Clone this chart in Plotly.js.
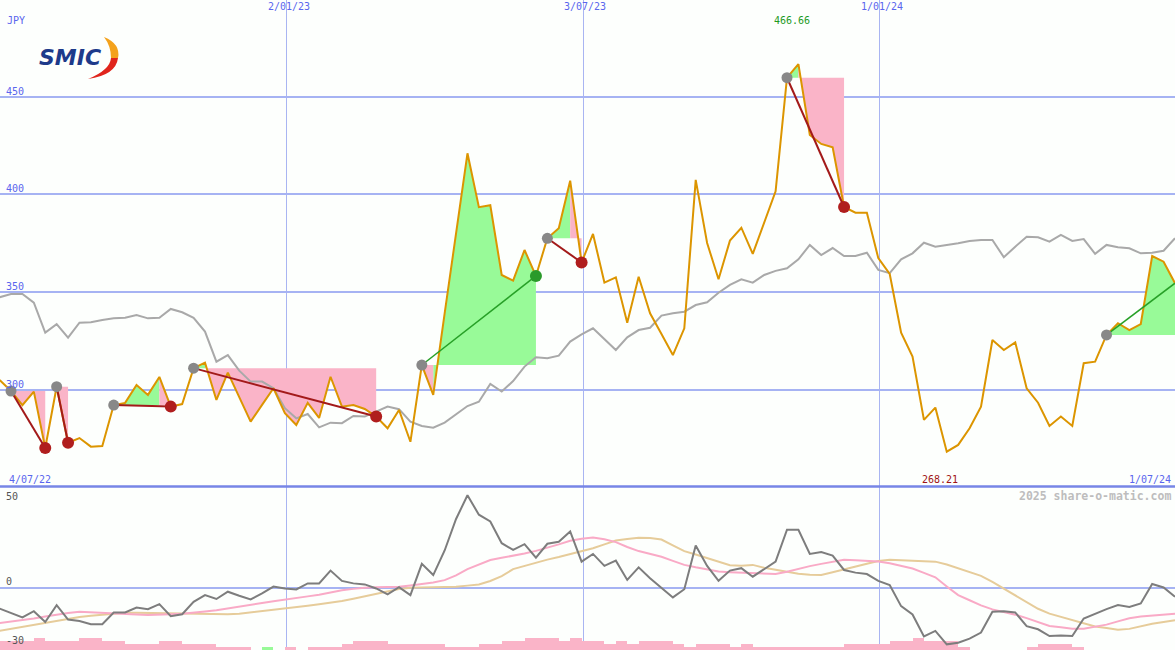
<!DOCTYPE html>
<html><head><meta charset="utf-8">
<script src="https://cdn.plot.ly/plotly-3.0.1.min.js"></script>
<style>html,body{margin:0;padding:0;background:#fdfffd;}#chart{width:1175px;height:650px;}</style>
</head><body><div id="chart"></div>
<script>
// ---------- data (weekly, first week 2022-07-10) ----------
const firstWeek = '2022-07-10';
const price = [304.9,299.3,292.1,299.0,270.1,301.5,272.8,275.2,270.8,271.1,
  292.1,293.2,302.4,297.3,306.5,291.3,292.6,311.0,313.8,294.7,
  308.7,296.2,283.6,292.2,300.7,288.0,281.9,293.2,285.5,306.6,
  291.3,292.1,290.1,286.2,280.2,289.6,273.3,312.6,297.3,339.0,
  380.2,421.0,393.4,394.4,358.7,355.8,371.5,358.2,377.5,382.6,
  407.0,365.1,379.7,354.8,357.5,334.3,357.8,339.1,328.5,317.7,
  331.4,407.4,375.1,356.5,376.3,382.9,369.5,385.8,401.5,459.7,
  466.66,430.4,425.8,424.1,393.5,390.6,390.6,367.3,359.2,329.2,
  316.9,284.5,290.8,268.21,271.7,280.2,291.3,325.4,320.3,324.2,
  300.7,293.3,281.4,286.2,281.4,313.5,314.3,328.0,334.0,330.5,
  333.6,368.4,365.5,354.5];
const bench = [347.3,349.0,349.0,344.5,329.2,333.5,326.6,334.3,334.5,335.7,
  336.5,336.8,338.2,336.5,336.8,341.3,339.6,336.8,329.7,314.3,
  317.7,309.7,304.1,304.1,300.7,290.5,285.3,287.5,280.7,283.1,
  282.8,286.5,286.2,288.7,291.3,290.0,283.6,281.4,280.5,283.1,
  287.5,291.6,293.8,302.9,299.0,304.4,311.8,316.6,316.1,317.4,
  324.6,328.3,331.4,325.8,320.3,326.8,330.5,331.7,337.9,339.1,
  339.9,343.3,344.7,349.6,353.6,356.5,354.8,358.7,360.8,362.1,
  366.7,374.1,368.9,372.5,368.4,368.4,370.1,361.3,359.6,366.7,
  369.8,375.2,373.2,374.1,374.9,376.1,376.6,376.6,367.8,373.2,
  378.3,378.0,375.8,379.2,376.1,377.1,369.5,374.1,372.9,372.4,
  369.8,370.1,371.1,377.5];
const momentum = [-10.1,-12.5,-14.5,-11.4,-16.7,-8.4,-15.5,-16.2,-17.8,-17.8,
  -12.0,-12.0,-9.6,-10.4,-7.9,-13.9,-12.9,-6.8,-3.5,-5.4,
  -1.8,-3.8,-5.6,-2.6,0.7,-0.2,-0.7,2.3,2.3,8.6,
  3.5,2.3,1.8,-0.2,-3.1,0.4,-3.5,11.9,6.4,18.5,
  34.0,45.7,36.1,32.8,22.1,18.8,21.6,15.0,21.8,22.8,
  27.9,13.0,16.8,10.9,13.5,4.0,10.2,4.8,-0.1,-4.6,
  -0.6,20.9,10.9,3.6,8.6,9.8,5.6,9.3,13.0,28.7,
  28.7,16.8,17.7,16.0,8.9,7.6,6.9,3.5,1.5,-8.9,
  -13.0,-23.8,-21.1,-27.7,-26.9,-24.9,-21.9,-11.7,-11.4,-12.0,
  -18.8,-20.3,-23.6,-23.3,-23.6,-15.0,-12.5,-10.4,-8.4,-9.3,
  -7.6,2.0,0.3,-4.3];
const maFast = [-17.2,-16.5,-15.7,-15.0,-14.0,-13.0,-12.3,-11.7,-11.9,-12.2,
  -12.4,-12.7,-13.0,-13.3,-13.2,-12.9,-12.6,-12.2,-11.5,-10.9,
  -10.1,-9.2,-8.4,-7.4,-6.5,-5.6,-4.8,-4.1,-3.3,-2.2,
  -1.1,-0.4,0.2,0.4,0.5,0.6,1.3,2.0,2.7,3.9,
  6.2,9.3,11.6,13.8,14.9,15.9,17.0,18.3,19.8,21.5,
  23.3,24.3,24.9,24.0,22.6,20.2,18.2,16.8,15.4,13.4,
  11.4,10.2,9.1,8.1,7.8,7.5,7.3,7.1,6.9,8.0,
  9.5,10.8,11.9,13.0,13.9,13.7,13.4,13.1,12.2,10.8,
  9.6,7.5,5.3,0.8,-3.5,-6.0,-8.5,-10.5,-11.8,-13.1,
  -14.8,-16.8,-18.7,-19.3,-20.0,-20.0,-19.1,-18.0,-16.4,-14.9,
  -14.0,-13.6,-13.0,-12.6];
const maSlow = [-21.1,-20.1,-19.2,-18.3,-17.3,-16.2,-15.2,-14.3,-13.6,-13.0,
  -12.4,-12.1,-12.1,-12.2,-12.4,-12.5,-12.6,-12.7,-12.7,-12.8,
  -12.9,-12.6,-12.0,-11.4,-10.8,-10.2,-9.5,-8.7,-8.0,-7.3,
  -6.4,-5.3,-4.1,-3.0,-1.9,-0.5,0.1,0.2,0.3,0.4,
  0.6,1.2,1.8,3.5,5.9,9.3,10.9,12.6,14.0,15.3,
  16.8,18.1,19.6,21.5,23.4,24.1,24.8,24.7,23.9,21.0,
  18.2,16.5,14.7,12.9,11.2,11.0,11.4,10.0,8.9,7.8,
  7.0,6.6,6.4,7.8,9.3,10.6,12.0,13.3,13.9,13.7,
  13.4,13.2,13.0,11.6,9.8,8.0,6.0,3.0,-0.2,-3.5,
  -7.0,-10.2,-12.6,-14.2,-15.6,-17.2,-18.9,-19.7,-20.5,-20.1,
  -18.8,-17.6,-16.7,-15.8];
const volLevel = [3,3,3,4,3,3,3,4,4,3, 3,2,2,2,3,3,2,2,2,1,
  1,1,0,1,0,1,0,1,1,1, 2,3,3,3,2,2,2,2,2,1,
  1,1,2,2,3,3,4,4,4,3, 4,3,3,2,3,2,3,3,3,2,
  1,2,2,2,1,2,1,1,1,1, 1,1,1,1,2,2,2,2,3,3,
  4,3,3,3,1,0,0,0,0,0, 1,2,2,2,1,0,0,0,0,0, 0,0,0,0];
const volUpWeeks = [23];
const trendStart = [1,5,10,17,37,48,69,97];
const trendEnd   = [4,6,15,33,47,51,74,103];
const trendOpen  = [false,false,false,false,false,false,false,true];
const gridDates = ['2023-01-02','2023-07-03','2024-01-01'];
const gridDateLabels = ['2/01/23','3/07/23','1/01/24'];
const priceTicks = [300,350,400,450];
const oscTicks = [50,0,-30];
const rangeLabels = ['4/07/22','1/07/24'];
const currency = 'JPY';
const watermark = '2025 share-o-matic.com';

// ---------- build ----------
const DAY = 86400000;
const t0 = Date.parse(firstWeek + 'T00:00:00Z');
const dates = price.map((_, i) => new Date(t0 + 7 * i * DAY).toISOString().slice(0, 10));
const W = 1175, H = 650;
const yDiv = 1 - 486.5 / H;
const PINK = '#fab4c8', GREEN = '#98fa98';
const BLUE = '#5a66ee';

const traces = [];
traces.push({type:'bar', x:dates, y:volLevel.map(v => v * 1.53), base:-30.5,
  width:7 * DAY, offset:0, xaxis:'x', yaxis:'y2', hoverinfo:'skip',
  marker:{color:volLevel.map((v, i) => volUpWeeks.includes(i) ? GREEN : PINK), line:{width:0}}});

const upX = [], upY = [], dnX = [], dnY = [];
trendStart.forEach((s, k) => {
  const e = trendEnd[k], L = price[s];
  for (let i = s; i < e; i++) {
    const up = price[i + 1] >= L;
    const X = up ? upX : dnX, Y = up ? upY : dnY;
    X.push(dates[i], dates[i], dates[i + 1], dates[i + 1], dates[i], null);
    Y.push(L, price[i], price[i + 1], L, L, null);
  }
});
traces.push({x:upX, y:upY, mode:'lines', fill:'toself', fillcolor:GREEN, line:{width:0, color:GREEN}, hoverinfo:'skip', xaxis:'x', yaxis:'y'});
traces.push({x:dnX, y:dnY, mode:'lines', fill:'toself', fillcolor:PINK, line:{width:0, color:PINK}, hoverinfo:'skip', xaxis:'x', yaxis:'y'});

traces.push({x:dates, y:bench, mode:'lines', line:{color:'#a9a9a9', width:2}, xaxis:'x', yaxis:'y'});
traces.push({x:dates, y:price, mode:'lines', line:{color:'#dc9500', width:2}, xaxis:'x', yaxis:'y'});

trendStart.forEach((s, k) => {
  const e = trendEnd[k];
  const up = price[e] >= price[s];
  traces.push({x:[dates[s], dates[e]], y:[price[s], price[e]], mode:'lines',
    line:{color: up ? '#27a027' : '#a31a1a', width: up ? 1.5 : 2}, xaxis:'x', yaxis:'y', hoverinfo:'skip'});
});
traces.push({x:trendStart.map(i => dates[i]), y:trendStart.map(i => price[i]), mode:'markers',
  marker:{color:'#888888', size:11}, xaxis:'x', yaxis:'y'});
const closed = trendEnd.filter((e, k) => !trendOpen[k]);
const closedUp = trendEnd.map((e, k) => price[e] >= price[trendStart[k]]).filter((u, k) => !trendOpen[k]);
traces.push({x:closed.map(i => dates[i]), y:closed.map(i => price[i]), mode:'markers',
  marker:{color:closedUp.map(u => u ? '#2a9a2a' : '#b01e1e'), size:12}, xaxis:'x', yaxis:'y'});

traces.push({x:dates, y:maSlow, mode:'lines', line:{color:'#e6cc9a', width:2}, xaxis:'x', yaxis:'y2'});
traces.push({x:dates, y:maFast, mode:'lines', line:{color:'#f9aac6', width:2}, xaxis:'x', yaxis:'y2'});
traces.push({x:dates, y:momentum, mode:'lines', line:{color:'#7d7d7d', width:2}, xaxis:'x', yaxis:'y2'});

const mono = (c, s, w) => ({family:'DejaVu Sans Mono, monospace', size:s || 10, color:c, weight:w || 'normal'});
const ann = [];
const py = p => 1 - p / H;
ann.push({text:currency, xref:'paper', yref:'paper', x:5 / W, y:py(20), xanchor:'left', yanchor:'middle', showarrow:false, font:mono(BLUE)});
priceTicks.forEach(v => ann.push({text:String(v), xref:'paper', yref:'y', x:4 / W, y:v, xanchor:'left', yanchor:'bottom', yshift:-2, showarrow:false, font:mono(BLUE)}));
gridDates.forEach((d, k) => ann.push({text:gridDateLabels[k], xref:'x', yref:'paper', x:d, y:1, xanchor:'center', yanchor:'top', xshift:2, yshift:1, showarrow:false, font:mono(BLUE)}));
ann.push({text:rangeLabels[0], xref:'paper', yref:'paper', x:7 / W, y:py(479), xanchor:'left', yanchor:'middle', showarrow:false, font:mono(BLUE)});
ann.push({text:rangeLabels[1], xref:'paper', yref:'paper', x:1, y:py(479), xanchor:'right', yanchor:'middle', xshift:-2, showarrow:false, font:mono(BLUE)});
let iMax = 0, iMin = 0;
price.forEach((v, i) => { if (v > price[iMax]) iMax = i; if (v < price[iMin]) iMin = i; });
ann.push({text:price[iMax].toFixed(2), xref:'x', yref:'paper', x:dates[iMax], y:py(21), xanchor:'center', yanchor:'middle', xshift:-6, showarrow:false, font:mono('#1f9a1f')});
ann.push({text:price[iMin].toFixed(2), xref:'x', yref:'paper', x:dates[iMin], y:py(479), xanchor:'center', yanchor:'middle', xshift:-7, showarrow:false, font:mono('#a01414')});
ann.push({text:watermark, xref:'paper', yref:'paper', x:1, y:py(496), xanchor:'right', yanchor:'middle', xshift:-2, showarrow:false, font:mono('#bdbdbd', 11.5, 'bold')});
ann.push({text:String(oscTicks[0]), xref:'paper', yref:'y2', x:4 / W, y:oscTicks[0], xanchor:'left', yanchor:'top', yshift:-2, showarrow:false, font:mono('#555555')});
ann.push({text:String(oscTicks[1]), xref:'paper', yref:'y2', x:4 / W, y:oscTicks[1], xanchor:'left', yanchor:'bottom', yshift:-1, showarrow:false, font:mono('#555555')});
ann.push({text:String(oscTicks[2]), xref:'paper', yref:'y2', x:4 / W, y:oscTicks[2], xanchor:'left', yanchor:'bottom', yshift:1, showarrow:false, font:mono('#555555')});
ann.push({text:'SMIC', xref:'paper', yref:'paper', x:70 / W, y:py(58), xanchor:'center', yanchor:'middle', showarrow:false,
  font:{family:'DejaVu Sans, sans-serif', size:22, color:'#1d3a8a', weight:'bold', style:'italic'}});

const pp = s => s.replace(/(-?\d+(?:\.\d+)?) (-?\d+(?:\.\d+)?)/g, (m, a, b) => (a / W).toFixed(5) + ',' + (1 - b / H).toFixed(5));
const shapes = [
  {type:'line', xref:'paper', yref:'paper', x0:0, x1:1, y0:yDiv, y1:yDiv, line:{color:'#7786e6', width:2.5}},
  {type:'path', xref:'paper', yref:'paper', path:pp('M 104 37 Q 121 44 118 58 L 111 58 Q 111 46 104 37 Z'), fillcolor:'#f4a21c', line:{width:0}},
  {type:'path', xref:'paper', yref:'paper', path:pp('M 118 58 Q 116 75 88 79 Q 110 70 111 58 Z'), fillcolor:'#e0251c', line:{width:0}}
];

const layout = {
  width:W, height:H, margin:{l:0, r:0, t:0, b:0, pad:0},
  paper_bgcolor:'#fdfffd', plot_bgcolor:'#fdfffd', showlegend:false, bargap:0,
  xaxis:{type:'date', range:[firstWeek + ' 06:00', dates[dates.length - 1]], tickvals:gridDates, showticklabels:false,
    showgrid:true, gridcolor:'#a9b5f2', gridwidth:1, zeroline:false, showline:false, ticks:'', anchor:'y2', fixedrange:true},
  yaxis:{domain:[yDiv, 1], range:[250.4, 499.5], tickvals:priceTicks, showticklabels:false, showgrid:true,
    gridcolor:'#a6b3f3', gridwidth:2, zeroline:false, showline:false, ticks:'', fixedrange:true},
  yaxis2:{domain:[0, yDiv], range:[-30.5, 50], tickvals:[0], showticklabels:false, showgrid:true,
    gridcolor:'#a6b3f3', gridwidth:2, zeroline:false, showline:false, ticks:'', fixedrange:true},
  shapes:shapes, annotations:ann, hovermode:false
};
Plotly.newPlot('chart', traces, layout, {staticPlot:true, displayModeBar:false});
</script></body></html>
